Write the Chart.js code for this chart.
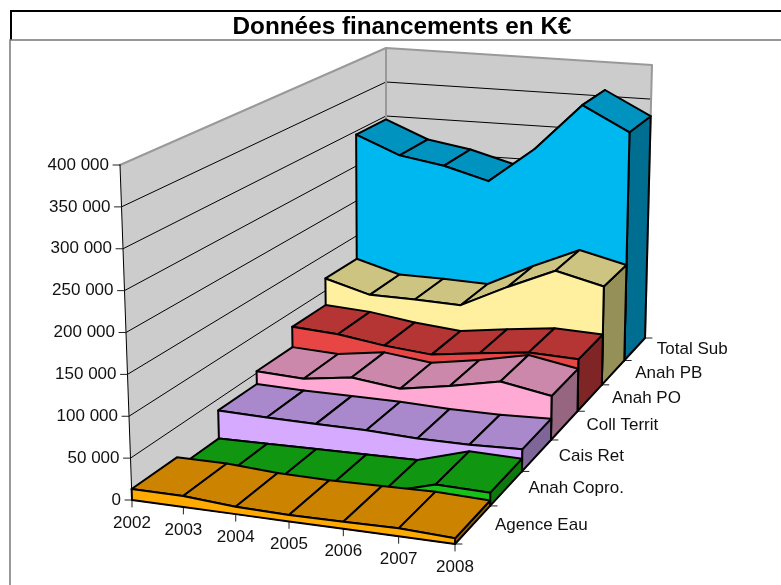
<!DOCTYPE html>
<html><head><meta charset="utf-8">
<style>html,body{margin:0;padding:0;background:#fff}canvas{display:block}</style>
<script src="https://cdn.jsdelivr.net/npm/chart.js@4"></script>
</head><body><canvas id="c" width="781" height="585"></canvas>
<script>
const titleText = "Données financements en K€";
const years = ["2002","2003","2004","2005","2006","2007","2008"];
const seriesNames = ["Agence Eau","Anah Copro.","Cais Ret","Coll Territ","Anah PO","Anah PB","Total Sub"];
const valueTicks = [0,50000,100000,150000,200000,250000,300000,350000,400000];
const valueTickLabels = ["0","50 000","100 000","150 000","200 000","250 000","300 000","350 000","400 000"];
const agenceEau = [13100,13000,8800,7500,8300,9300,6600];
const anahCopro = [0,0,0,0,0,18000,16000];
const caisRet   = [35700,33300,31900,30600,27300,26400,27600];
const collTerrit= [52500,48600,56300,47700,57300,69600,57000];
const anahPO    = [80000,75300,65400,58800,66200,73000,69500];
const anahPB    = [117000,99000,97500,94600,125000,152500,136000];
const totalSub  = [295000,269500,259000,241500,292000,359000,325000];
const seriesValues = [agenceEau,anahCopro,caisRet,collTerrit,anahPO,anahPB,totalSub];
const frontColors = ["#FFAA00","#17C117","#D5AAFF","#FFAAD4","#E84545","#FFF0A0","#00B8F0"];
const topColors   = ["#CC8400","#109610","#AA88CC","#CC88AA","#B53535","#CCC480","#0093C0"];
const sideColors  = ["#996300","#0D780D","#7F6699","#966680","#7F2525","#959058","#006E90"];

const maxValue = 400000;
const warp = (t,g)=> t*(1+g)/(1+g*t);
const lerp = (a,b,t)=> a+(b-a)*t;
// Projection of (year index, depth index, value) on to the picture plane
const floorCorners = {f0:[132,500],f1:[455,544],b0:[386,320],b1:[645,338]};
const upCorners    = {f0:[-12,-335],f1:[2,-345],b0:[0,-272],b1:[7,-273]};
function bil(c,u,w,n){return lerp(lerp(c.f0[n],c.f1[n],u),lerp(c.b0[n],c.b1[n],u),w);}
function P(i,k,v){
  const u=warp(i/(years.length-1),-0.054), w=warp(k/seriesNames.length,lerp(0.30,0.36,u)), t=v/maxValue;
  return {x:bil(floorCorners,u,w,0)+t*bil(upCorners,u,w,0), y:bil(floorCorners,u,w,1)+t*bil(upCorners,u,w,1)};
}
const datasets=[];
function add(pts,stroke,lw,fill){
  datasets.push({data:pts,showLine:true,pointRadius:0,pointHoverRadius:0,borderColor:stroke,borderWidth:lw,
    borderDash:[4000,0],borderJoinStyle:'round',borderCapStyle:'round',fill:false,tension:0,clip:false,polyFill:fill||null,order:-datasets.length});
}
const N=years.length, S=seriesNames.length, TOP=maxValue;
// walls
add([P(0,0,0),P(0,S,0),P(0,S,TOP),P(0,0,TOP),P(0,0,0)],"rgba(0,0,0,0)",0,"#CCCCCC");
add([P(0,S,0),P(N-1,S,0),P(N-1,S,TOP),P(0,S,TOP),P(0,S,0)],"rgba(0,0,0,0)",0,"#CCCCCC");
valueTicks.slice(0,-1).forEach(v=>{
  add([P(0,0,v),P(0,S,v),P(N-1,S,v)],"#000000",1);
});
add([P(0,0,TOP),P(0,S,TOP),P(N-1,S,TOP),P(N-1,S,0)],"#999999",2);
add([P(0,S,0),P(0,S,TOP)],"#999999",2);
add([P(0,0,0),P(0,0,TOP)],"#000000",1);
// ticks
valueTicks.forEach(v=>{const p=P(0,0,v);add([p,{x:p.x-7,y:p.y}],"#222222",1);});
years.forEach((y,i)=>{const p=P(i,0,0);add([p,{x:p.x,y:p.y+7}],"#222222",1);});
for(let k=0;k<=S;k++){const p=P(N-1,k,0);add([p,{x:p.x+7,y:p.y}],"#222222",1);}
add([P(0,0,0),P(N-1,0,0),P(N-1,S,0)],"#000000",1);
// series, back to front
for(let k=S-1;k>=0;k--){
  const v=seriesValues[k];
  add([P(N-1,k,0),P(N-1,k+1,0),P(N-1,k+1,v[N-1]),P(N-1,k,v[N-1]),P(N-1,k,0)],"#000000",2,sideColors[k]);
  for(let i=0;i<N-1;i++){
    add([P(i,k,v[i]),P(i+1,k,v[i+1]),P(i+1,k+1,v[i+1]),P(i,k+1,v[i]),P(i,k,v[i])],"#000000",2,topColors[k]);
  }
  const face=[];
  for(let i=0;i<N;i++)face.push(P(i,k,0));
  for(let i=N-1;i>=0;i--)face.push(P(i,k,v[i]));
  face.push(P(0,k,0));
  add(face,"#000000",2,frontColors[k]);
}
const FONT="17px 'Liberation Sans', Arial, sans-serif";
const polyPlugin={id:'poly',
  beforeDatasetDraw(chart,args){
    const ds=chart.data.datasets[args.index]; if(!ds.polyFill)return;
    const pts=chart.getDatasetMeta(args.index).data, c=chart.ctx;
    c.save();c.beginPath();pts.forEach((p,i)=>i?c.lineTo(p.x,p.y):c.moveTo(p.x,p.y));c.closePath();
    c.fillStyle=ds.polyFill;c.fill();c.restore();
  },
  beforeDatasetsDraw(chart){
    const c=chart.ctx;c.save();
    c.strokeStyle="#000";c.lineWidth=2;c.beginPath();c.moveTo(11,40);c.lineTo(11,11);c.lineTo(781,11);c.stroke();
    c.strokeStyle="#777";c.lineWidth=1.5;c.beginPath();c.moveTo(781,40);c.lineTo(10,40);c.lineTo(10,585);c.stroke();
    c.restore();
  },
  afterDatasetsDraw(chart){
    const c=chart.ctx,sx=chart.scales.x,sy=chart.scales.y;
    const X=p=>sx.getPixelForValue(p.x),Y=p=>sy.getPixelForValue(p.y);
    c.save();c.font=FONT;c.fillStyle="#111";c.textBaseline="middle";
    c.textAlign="right";
    valueTicks.forEach((v,i)=>{const p=P(0,0,v);c.fillText(valueTickLabels[i],X(p)-11,Y(p));});
    c.textAlign="center";
    years.forEach((y,i)=>{const p=P(i,0,0);c.fillText(y,X(p),Y(p)+23);});
    c.textAlign="left";
    seriesNames.forEach((n,k)=>{const p=P(N-1,k+0.5,0);c.fillText(n,X(p)+22,Y(p)+0.5);});
    c.restore();
  }};
new Chart(document.getElementById('c'),{
  type:'scatter',
  data:{datasets},
  plugins:[polyPlugin],
  options:{responsive:false,animation:false,devicePixelRatio:1,
    layout:{padding:{left:23,right:0,top:0,bottom:0}},
    events:[],
    scales:{
      x:{type:'linear',display:false,min:23,max:781},
      y:{type:'linear',display:false,min:40,max:585,reverse:true}
    },
    plugins:{
      legend:{display:false},tooltip:{enabled:false},
      title:{display:true,text:titleText,color:"#000",fullSize:false,
        font:{family:"'Liberation Sans', Arial, sans-serif",weight:'bold',size:24.3,lineHeight:'25px'},
        padding:{top:15,bottom:0}}
    }
  }
});
</script></body></html>
